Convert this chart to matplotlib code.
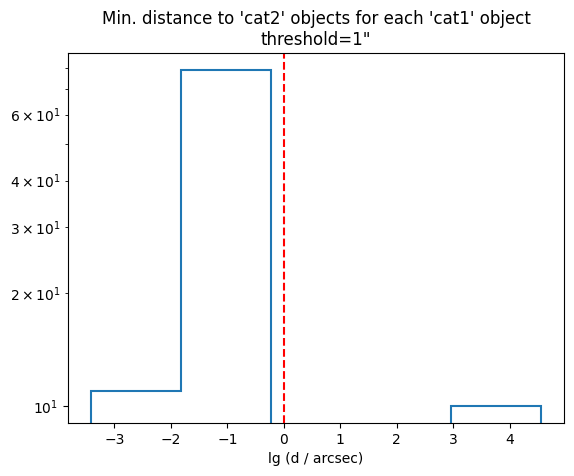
import matplotlib
matplotlib.use('Agg')
import matplotlib.pyplot as plt
import numpy as np

# histogram of lg(min distance)
bin_edges = [-3.42, -1.82, -0.23, 1.36, 2.96, 4.56]
counts = [11, 79, 0, 0, 10]
threshold = 1.0  # arcsec

centers = [(a + b) / 2 for a, b in zip(bin_edges[:-1], bin_edges[1:])]

fig = plt.figure(figsize=(5.74, 4.76), dpi=100)
ax = fig.add_axes([0.1185, 0.1113, 0.864, 0.7774])
ax.hist(centers, bins=bin_edges, weights=counts, histtype='step', lw=1.5)
ax.set_yscale('log')
ax.axvline(np.log10(threshold), color='red', ls='--')
ax.set_xlabel('lg (d / arcsec)')
ax.set_title("Min. distance to 'cat2' objects for each 'cat1' object\nthreshold=1\"")
fig.savefig('out.png', dpi=100)
